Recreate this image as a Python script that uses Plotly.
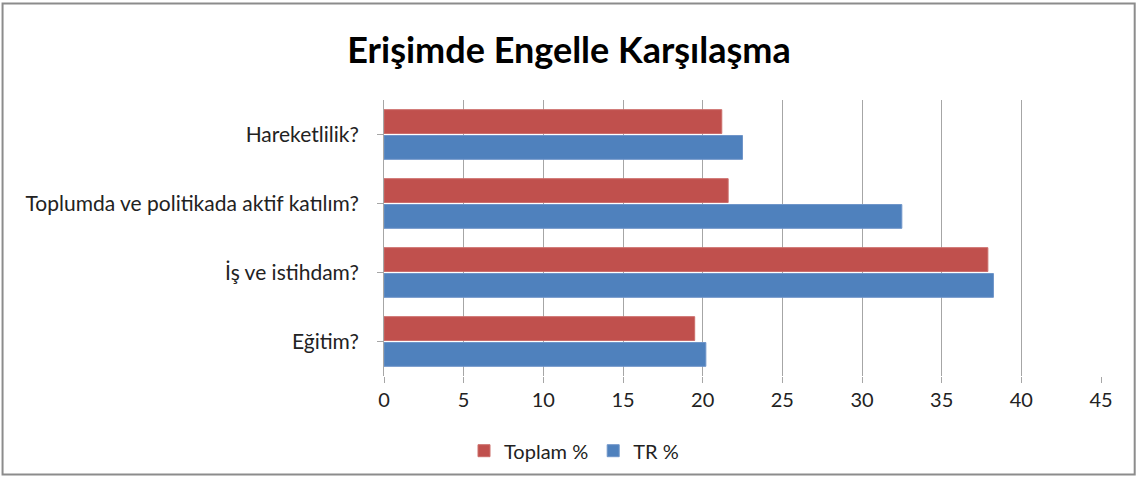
import plotly.graph_objects as go

categories = ["Eğitim?", "İş ve istihdam?", "Toplumda ve politikada aktif katılım?", "Hareketlilik?"]
toplam = [19.5, 37.9, 21.6, 21.2]
tr = [20.2, 38.25, 32.5, 22.5]
x_ticks = [0, 5, 10, 15, 20, 25, 30, 35, 40, 45]

FONT = "Lato"
fig = go.Figure()
fig.add_trace(go.Bar(y=categories, x=tr, orientation="h", name="TR %",
                     marker=dict(color="#4F81BD", line=dict(color="#6F95C9", width=1)),
                     legendrank=2))
fig.add_trace(go.Bar(y=categories, x=toplam, orientation="h", name="Toplam %",
                     marker=dict(color="#C0504D", line=dict(color="#CC6E6B", width=1)),
                     legendrank=1))

fig.update_layout(
    width=1138, height=482,
    margin=dict(l=384, r=37, t=100, b=102),
    paper_bgcolor="white", plot_bgcolor="white",
    barmode="group", bargap=0.25, bargroupgap=0.08,
    title=dict(text="<b>Erişimde Engelle Karşılaşma</b>", x=0.5, xanchor="center",
               y=0.895, yanchor="middle",
               font=dict(family=FONT, size=36, color="black")),
    font=dict(family=FONT, size=19, color="#222"),
    xaxis=dict(range=[0, 45], tickvals=x_ticks, showgrid=True, gridcolor="#A6A6A6",
               gridwidth=1, zeroline=False, ticks="outside", ticklen=6, tickcolor="#A6A6A6",
               showline=False, tickfont=dict(size=20, family=FONT, color="#222")),
    yaxis=dict(showline=True, linecolor="#A6A6A6", linewidth=1, ticks="outside",
               ticklen=6, tickcolor="#A6A6A6", ticklabelstandoff=14,
               tickfont=dict(size=21, family=FONT, color="#222")),
    legend=dict(orientation="h", x=0.265, xanchor="center", y=-0.2, yanchor="top",
                font=dict(size=20, family=FONT, color="#222")),
    showlegend=True,
)
fig.add_shape(type="rect", xref="paper", yref="paper",
              x0=-0.532, x1=1.047, y0=-0.357, y1=1.35,
              line=dict(color="#8C8C8C", width=2), fillcolor="rgba(0,0,0,0)", layer="below")

fig.write_html("out.html", config={"displayModeBar": False},
               post_script="document.body.style.margin='0';")
